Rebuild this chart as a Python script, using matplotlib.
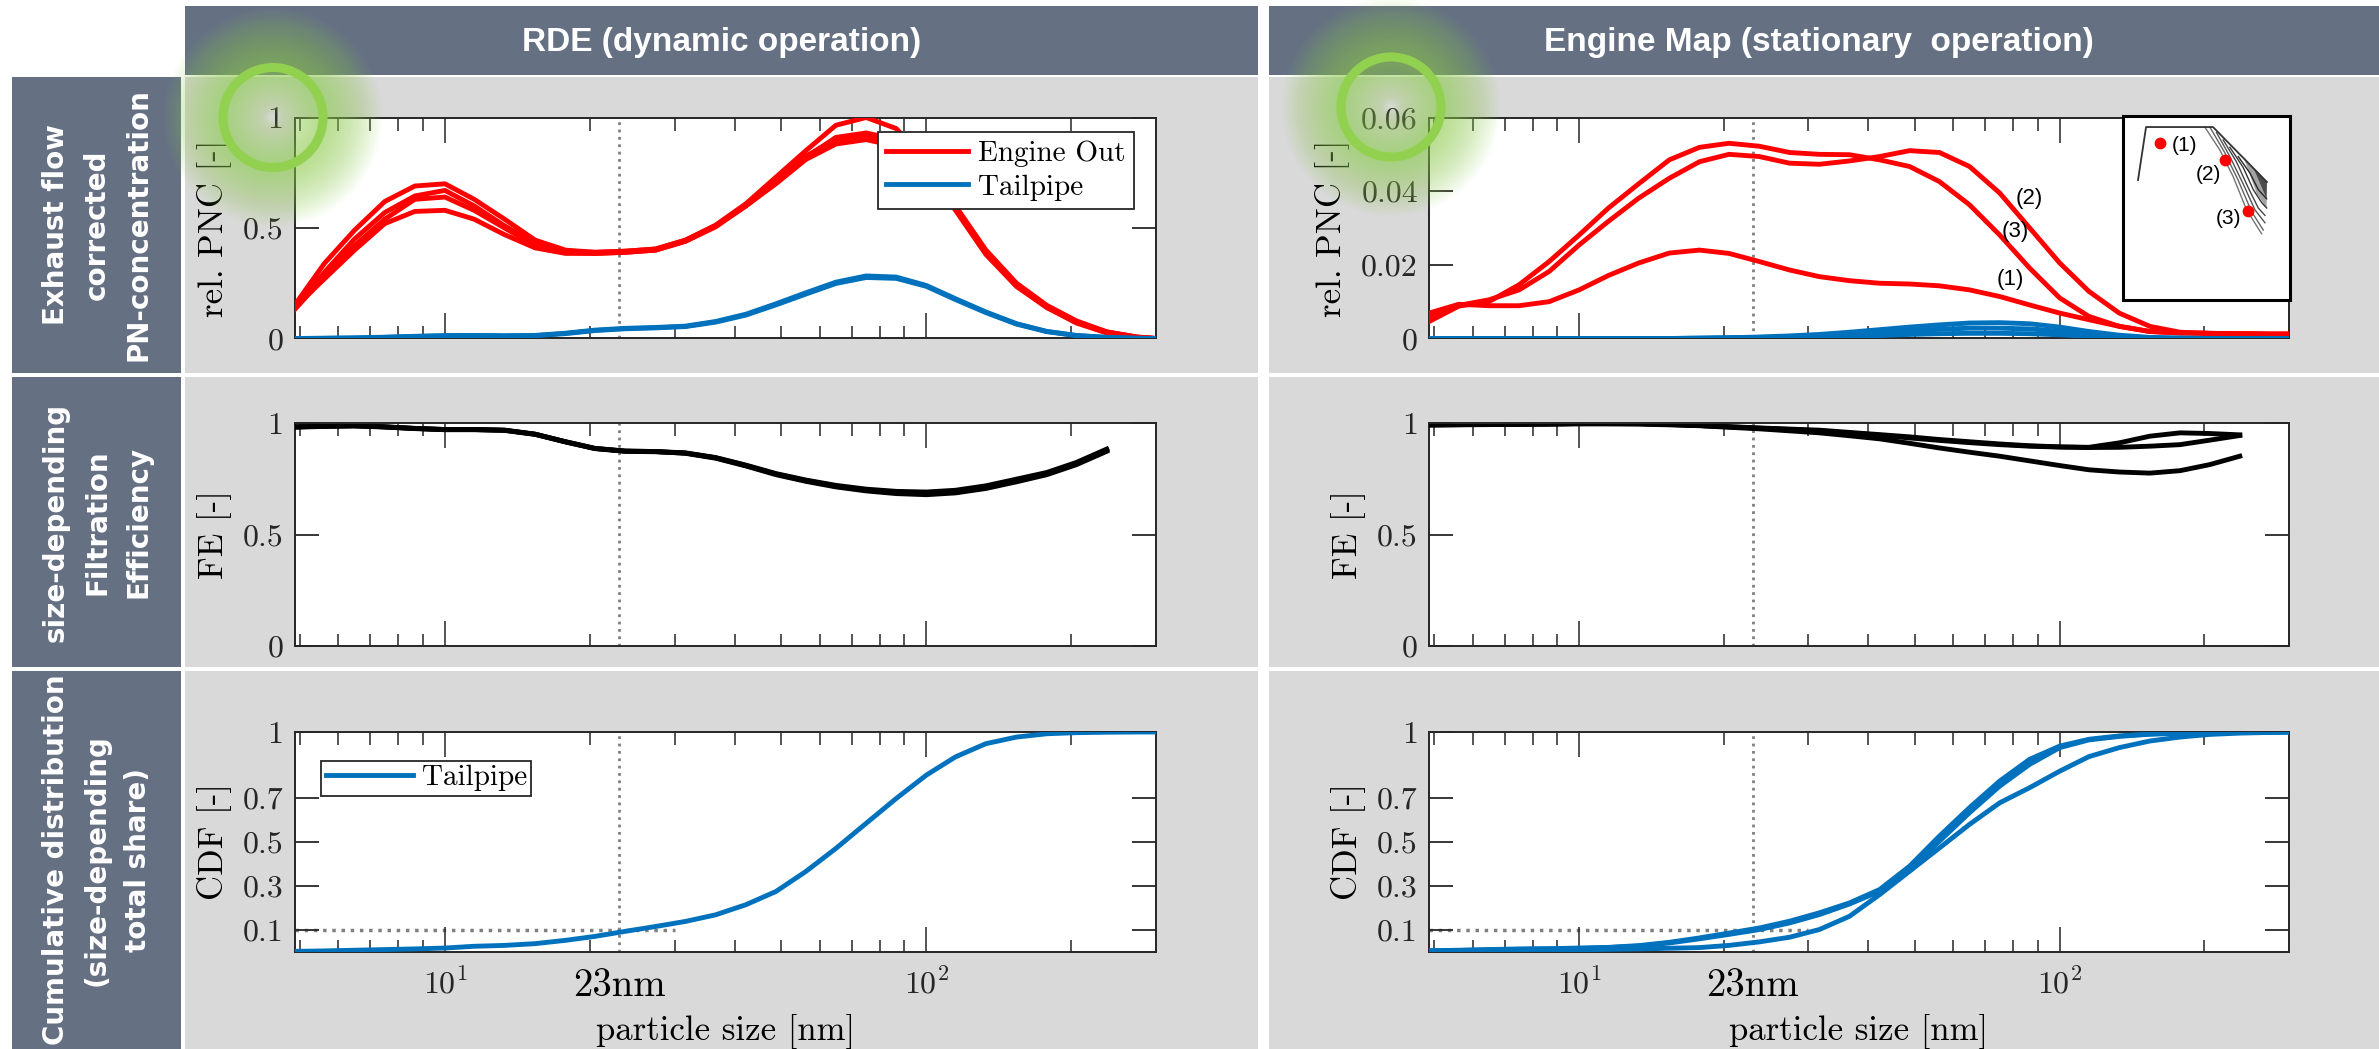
import numpy as np
import matplotlib
matplotlib.use("Agg")
import matplotlib.pyplot as plt
import matplotlib.transforms as mtransforms
from matplotlib import font_manager
from matplotlib.patches import Rectangle, Circle, Polygon
from matplotlib.ticker import FixedLocator, FixedFormatter, NullFormatter

W, H = 2379, 1049

# ---- data ----
size_nm = [4.87, 5.62, 6.49, 7.50, 8.66, 10.0, 11.5, 13.3, 15.4, 17.8, 20.5, 23.7,
           27.4, 31.6, 36.5, 42.2, 48.7, 56.2, 64.9, 75.0, 86.6, 100.0, 115.0,
           133.0, 154.0, 178.0, 205.0, 237.0, 274.0, 300.0]
x_max = 300.0
cut_size = 23
cdf_ref = 0.1
cdf_ref_end = 30

col_titles = ["RDE (dynamic operation)", "Engine Map (stationary  operation)"]
row_titles = ["Exhaust flow\ncorrected\nPN-concentration",
              "size-depending\nFiltration\nEfficiency",
              "Cumulative distribution\n(size-depending\ntotal share)"]

# RDE, relative PNC
rde_engine_out = [
    [0.15, 0.34, 0.49, 0.62, 0.69, 0.70, 0.63, 0.54, 0.445, 0.40, 0.39, 0.395, 0.405, 0.445, 0.513,
     0.61, 0.73, 0.85, 0.965, 1.0, 0.95, 0.80, 0.60, 0.40, 0.25, 0.15, 0.08, 0.03, 0.007, 0.0],
    [0.14, 0.30, 0.45, 0.57, 0.645, 0.67, 0.60, 0.51, 0.43, 0.395, 0.39, 0.395, 0.405, 0.445, 0.51,
     0.60, 0.71, 0.82, 0.91, 0.93, 0.90, 0.78, 0.59, 0.39, 0.24, 0.14, 0.075, 0.028, 0.006, 0.0],
    [0.13, 0.28, 0.42, 0.54, 0.63, 0.64, 0.58, 0.50, 0.42, 0.39, 0.385, 0.39, 0.40, 0.44, 0.505,
     0.60, 0.70, 0.81, 0.88, 0.90, 0.87, 0.76, 0.58, 0.38, 0.235, 0.14, 0.07, 0.025, 0.005, 0.0],
    [0.14, 0.27, 0.40, 0.52, 0.575, 0.58, 0.54, 0.47, 0.41, 0.385, 0.385, 0.39, 0.40, 0.44, 0.51,
     0.605, 0.715, 0.825, 0.90, 0.92, 0.89, 0.775, 0.585, 0.385, 0.24, 0.145, 0.075, 0.03, 0.006, 0.0],
]
rde_tailpipe = [
    [0.0, 0.001, 0.003, 0.006, 0.010, 0.013, 0.014, 0.012, 0.014, 0.024, 0.038, 0.046, 0.050, 0.056, 0.077,
     0.110, 0.157, 0.207, 0.255, 0.283, 0.278, 0.240, 0.180, 0.120, 0.067, 0.032, 0.014, 0.005, 0.001, 0.0],
    [0.0, 0.001, 0.002, 0.005, 0.009, 0.012, 0.013, 0.012, 0.013, 0.022, 0.036, 0.044, 0.048, 0.054, 0.074,
     0.106, 0.152, 0.201, 0.249, 0.276, 0.272, 0.236, 0.176, 0.117, 0.065, 0.031, 0.013, 0.005, 0.001, 0.0],
]

# Engine map, relative PNC, operating points (1), (2), (3)
map_engine_out = {
    "(1)": [0.0069, 0.0093, 0.0089, 0.0089, 0.0100, 0.0132, 0.0171, 0.0205, 0.0232, 0.0240, 0.0231, 0.0209,
            0.0186, 0.0168, 0.0157, 0.0150, 0.0148, 0.0143, 0.0132, 0.0114, 0.0091, 0.0069, 0.0051, 0.0033,
            0.0019, 0.0015, 0.0014, 0.0013, 0.0012, 0.0012],
    "(2)": [0.0055, 0.0090, 0.0105, 0.0132, 0.0182, 0.0254, 0.0318, 0.0381, 0.0435, 0.0480, 0.0500, 0.0494,
            0.0476, 0.0473, 0.0482, 0.0494, 0.0510, 0.0505, 0.0467, 0.0395, 0.0300, 0.0205, 0.0128, 0.0069,
            0.0033, 0.0017, 0.0014, 0.0013, 0.0012, 0.0012],
    "(3)": [0.0046, 0.0088, 0.0100, 0.0146, 0.0209, 0.0281, 0.0354, 0.0420, 0.0485, 0.0519, 0.0530, 0.0522,
            0.0505, 0.0500, 0.0499, 0.0485, 0.0467, 0.0426, 0.0363, 0.0281, 0.0191, 0.0110, 0.0060, 0.0033,
            0.0019, 0.0015, 0.0014, 0.0013, 0.0012, 0.0012],
}
map_tailpipe = [
    [0, 0, 0, 0, 0, 0, 0, 0, 0, 0.0001, 0.0002, 0.0004, 0.0007, 0.0011, 0.0017, 0.0024, 0.0031, 0.0037,
     0.0042, 0.0043, 0.0040, 0.0031, 0.0019, 0.0009, 0.0003, 0.0001, 0, 0, 0, 0],
    [0, 0, 0, 0, 0, 0, 0, 0, 0, 0.0001, 0.0002, 0.0003, 0.0005, 0.0008, 0.0012, 0.0017, 0.0021, 0.0025,
     0.0028, 0.0028, 0.0026, 0.0020, 0.0012, 0.0006, 0.0002, 0.0001, 0, 0, 0, 0],
    [0, 0, 0, 0, 0, 0, 0, 0, 0, 0, 0.0001, 0.0002, 0.0003, 0.0004, 0.0006, 0.0008, 0.0011, 0.0013,
     0.0014, 0.0014, 0.0013, 0.0010, 0.0006, 0.0003, 0.0001, 0, 0, 0, 0, 0],
]
# label positions of the operating points in the PNC plot (size, PNC)
map_label_pos = {"(1)": (79, 0.0159), "(2)": (86.5, 0.0381), "(3)": (81, 0.029)}

# filtration efficiency (first 28 sizes)
rde_fe = [
    [0.985, 0.988, 0.990, 0.985, 0.978, 0.973, 0.973, 0.970, 0.952, 0.918, 0.888, 0.876, 0.874, 0.868,
     0.847, 0.813, 0.775, 0.746, 0.722, 0.705, 0.695, 0.692, 0.700, 0.720, 0.750, 0.780, 0.825, 0.885],
    [0.985, 0.988, 0.990, 0.985, 0.978, 0.973, 0.973, 0.970, 0.952, 0.918, 0.888, 0.876, 0.874, 0.866,
     0.844, 0.809, 0.770, 0.740, 0.715, 0.697, 0.685, 0.680, 0.688, 0.708, 0.738, 0.770, 0.815, 0.875],
    [0.983, 0.987, 0.989, 0.984, 0.977, 0.972, 0.972, 0.969, 0.951, 0.917, 0.887, 0.875, 0.873, 0.867,
     0.846, 0.811, 0.773, 0.743, 0.718, 0.700, 0.690, 0.686, 0.694, 0.714, 0.744, 0.775, 0.820, 0.880],
]
map_fe = [
    [0.994, 0.995, 0.996, 0.997, 0.998, 1.0, 1.0, 1.0, 0.996, 0.991, 0.986, 0.980, 0.975, 0.970,
     0.960, 0.950, 0.940, 0.928, 0.918, 0.908, 0.900, 0.895, 0.893, 0.913, 0.943, 0.958, 0.955, 0.949],
    [0.994, 0.995, 0.996, 0.997, 0.998, 1.0, 1.0, 1.0, 0.996, 0.991, 0.985, 0.979, 0.973, 0.967,
     0.957, 0.947, 0.935, 0.924, 0.914, 0.905, 0.898, 0.894, 0.892, 0.893, 0.898, 0.905, 0.925, 0.946],
    [0.993, 0.994, 0.995, 0.996, 0.997, 0.998, 0.998, 0.997, 0.994, 0.990, 0.983, 0.976, 0.967, 0.958,
     0.945, 0.931, 0.911, 0.890, 0.871, 0.853, 0.832, 0.811, 0.792, 0.782, 0.777, 0.788, 0.815, 0.853],
]

# cumulative distribution of tailpipe PN
rde_cdf = [[0.003, 0.005, 0.008, 0.011, 0.014, 0.018, 0.026, 0.030, 0.038, 0.053, 0.071, 0.094, 0.116, 0.139,
            0.169, 0.215, 0.275, 0.366, 0.471, 0.585, 0.698, 0.804, 0.887, 0.947, 0.977, 0.992, 0.997, 0.999,
            1.0, 1.0]]
map_cdf = [
    [0.006, 0.008, 0.011, 0.014, 0.015, 0.018, 0.021, 0.029, 0.044, 0.064, 0.086, 0.109, 0.140, 0.178,
     0.223, 0.284, 0.390, 0.527, 0.656, 0.777, 0.876, 0.936, 0.967, 0.982, 0.991, 0.995, 0.997, 0.998, 0.999, 1.0],
    [0.005, 0.007, 0.010, 0.012, 0.014, 0.016, 0.020, 0.027, 0.041, 0.060, 0.080, 0.102, 0.132, 0.170,
     0.218, 0.276, 0.375, 0.504, 0.633, 0.754, 0.853, 0.929, 0.964, 0.980, 0.990, 0.994, 0.997, 0.998, 0.999, 1.0],
    [0.004, 0.005, 0.006, 0.007, 0.008, 0.010, 0.012, 0.014, 0.017, 0.020, 0.030, 0.046, 0.067, 0.102,
     0.162, 0.261, 0.367, 0.473, 0.580, 0.678, 0.747, 0.822, 0.888, 0.929, 0.959, 0.977, 0.989, 0.995, 0.998, 1.0],
]

# engine map sketch in the inset (normalised speed / load)
full_load_speed = [0.09, 0.138, 0.539, 0.862]
full_load_torque = [0.652, 0.94, 0.94, 0.641]
iso_lines = [
    ([0.49, 0.58, 0.66, 0.74, 0.83], [0.94, 0.815, 0.67, 0.49, 0.36]),
    ([0.52, 0.61, 0.69, 0.77, 0.84], [0.94, 0.80, 0.65, 0.48, 0.38]),
    ([0.56, 0.64, 0.72, 0.79, 0.85], [0.91, 0.78, 0.63, 0.49, 0.42]),
    ([0.60, 0.68, 0.75, 0.81, 0.85], [0.87, 0.75, 0.61, 0.50, 0.46]),
    ([0.64, 0.72, 0.78, 0.83, 0.86], [0.83, 0.72, 0.60, 0.53, 0.50]),
    ([0.69, 0.76, 0.81, 0.85, 0.86], [0.78, 0.69, 0.60, 0.56, 0.55]),
]
op_speed = [0.222, 0.611, 0.749]
op_torque = [0.853, 0.761, 0.484]
op_labels = ["(1)", "(2)", "(3)"]
op_label_pos = [(0.29, 0.842, "left"), (0.59, 0.68, "right"), (0.71, 0.445, "right")]

# ---- style ----
plt.rcParams['mathtext.fontset'] = 'cm'
names = {f.name for f in font_manager.fontManager.ttflist}
NARROW = 'Liberation Sans Narrow' if 'Liberation Sans Narrow' in names else 'Liberation Sans'
SERIF = 'cmr10'

HDR = '#657083'
PANEL = '#d9d9d9'
RED = '#ff0000'
BLUE = '#0072bd'
GREEN = '#92d050'
DARK = '#262626'
LW = 3.5


def frac(x0, y0, x1, y1):
    return [x0 / W, 1 - y1 / H, (x1 - x0) / W, (y1 - y0) / H]


fig = plt.figure(figsize=(W / 100, H / 100), dpi=100)

# background boxes
bg = fig.add_axes([0, 0, 1, 1], zorder=-5)
bg.set_xlim(0, W)
bg.set_ylim(H, 0)
bg.axis('off')
cols = [(185, 1258), (1269, W)]
rows = [(77, 373), (377, 667), (671, H)]
for (x0, x1), title in zip(cols, col_titles):
    bg.add_patch(Rectangle((x0, 6), x1 - x0, 69, color=HDR, lw=0))
    for y0, y1 in rows:
        bg.add_patch(Rectangle((x0, y0), x1 - x0, y1 - y0, color=PANEL, lw=0))
for cx, title in zip([722, 1819], col_titles):
    bg.text(cx, 43, title, ha='center', va='center', color='white',
            fontsize=24, fontweight='bold', family=NARROW)
for (y0, y1), lab in zip(rows, row_titles):
    bg.add_patch(Rectangle((12, y0), 169, y1 - y0, color=HDR, lw=0))
    bg.text(97, (y0 + y1) / 2, lab, rotation=90, ha='center', va='center', color='white',
            fontsize=20, fontweight='bold', linespacing=1.6, multialignment='center',
            family='DejaVu Sans')

ax_x = [(294.5, 1156), (1429, 2289)]
ax_y = [(117.5, 338.5), (423.5, 646), (732, 952)]


def style(ax, yticks, ylabels, ylim, ylab, bottom=False):
    ax.set_xscale('log')
    ax.set_xlim(size_nm[0], x_max)
    ax.set_ylim(*ylim)
    ax.xaxis.set_major_locator(FixedLocator([10, 100]))
    ax.xaxis.set_minor_locator(FixedLocator([5, 6, 7, 8, 9, 20, 30, 40, 50, 60, 70, 80, 90, 200]))
    ax.xaxis.set_minor_formatter(NullFormatter())
    if bottom:
        ax.xaxis.set_major_formatter(FixedFormatter([r'$10^{1}$', r'$10^{2}$']))
        ax.tick_params(axis='x', which='major', labelsize=23, pad=12)
        ax.set_xlabel('particle size [nm]', family=SERIF, fontsize=25, labelpad=10)
        tr = mtransforms.blended_transform_factory(ax.transData, ax.transAxes)
        ax.text(cut_size, -0.075, '23nm', transform=tr, ha='center', va='top',
                family=SERIF, fontsize=28)
    else:
        ax.xaxis.set_major_formatter(NullFormatter())
    ax.yaxis.set_major_locator(FixedLocator(yticks))
    ax.yaxis.set_major_formatter(FixedFormatter(ylabels))
    for t in ax.get_yticklabels():
        t.set_family(SERIF)
    ax.tick_params(which='both', direction='in', top=True, right=True, color=DARK, labelcolor=DARK)
    ax.tick_params(axis='x', which='major', length=18, width=1.1)
    ax.tick_params(axis='x', which='minor', length=9, width=1.1)
    ax.tick_params(axis='y', which='major', length=17, width=1.3, pad=8, labelsize=23)
    for s in ax.spines.values():
        s.set_color(DARK)
        s.set_linewidth(1.4)
    ax.set_ylabel(ylab, family=SERIF, fontsize=25, labelpad=8)
    ax.axvline(cut_size, color='#808080', ls=':', lw=2, zorder=1)


axes = [[fig.add_axes(frac(x0, y0, x1, y1)) for (x0, x1) in ax_x] for (y0, y1) in ax_y]

# row 1: PNC
ax = axes[0][0]
style(ax, [0, 0.5, 1], ['0', '0.5', '1'], (0, 1), 'rel. PNC [-]')
for i, y in enumerate(rde_engine_out):
    ax.plot(size_nm, y, color=RED, lw=LW, label='Engine Out' if i == 0 else '_nolegend_', zorder=3)
for i, y in enumerate(rde_tailpipe):
    ax.plot(size_nm, y, color=BLUE, lw=LW, label='Tailpipe' if i == 0 else '_nolegend_', zorder=3)
leg = ax.legend(loc='upper right', bbox_to_anchor=(0.975, 0.936), prop={'family': SERIF, 'size': 21},
                fancybox=False, edgecolor=DARK, framealpha=1, handlelength=2.8, borderaxespad=0,
                labelspacing=0.25, handletextpad=0.35, borderpad=0.3)
leg.get_frame().set_linewidth(1.3)

ax = axes[0][1]
style(ax, [0, 0.02, 0.04, 0.06], ['0', '0.02', '0.04', '0.06'], (0, 0.06), 'rel. PNC [-]')
for key, y in map_engine_out.items():
    ax.plot(size_nm, y, color=RED, lw=LW, zorder=3)
    lx, ly = map_label_pos[key]
    ax.text(lx, ly, key, ha='center', va='center', family=NARROW, fontsize=16, zorder=4)
for y in map_tailpipe:
    ax.plot(size_nm, y, color=BLUE, lw=LW, zorder=3)

# row 2: filtration efficiency
ax = axes[1][0]
style(ax, [0, 0.5, 1], ['0', '0.5', '1'], (0, 1), 'FE [-]')
for y in rde_fe:
    ax.plot(size_nm[:len(y)], y, color='black', lw=LW, zorder=3)
ax = axes[1][1]
style(ax, [0, 0.5, 1], ['0', '0.5', '1'], (0, 1), 'FE [-]')
for y in map_fe:
    ax.plot(size_nm[:len(y)], y, color='black', lw=LW, zorder=3)

# row 3: CDF
for ax, curves in zip(axes[2], [rde_cdf, map_cdf]):
    style(ax, [0.1, 0.3, 0.5, 0.7, 1], ['0.1', '0.3', '0.5', '0.7', '1'], (0, 1), 'CDF [-]', bottom=True)
    ax.hlines(cdf_ref, size_nm[0], cdf_ref_end, color='#808080', ls=':', lw=2.5, zorder=1)
    for i, y in enumerate(curves):
        ax.plot(size_nm, y, color=BLUE, lw=LW, label='Tailpipe' if i == 0 else '_nolegend_', zorder=3)
leg = axes[2][0].legend(loc='upper left', bbox_to_anchor=(0.031, 0.87), prop={'family': SERIF, 'size': 21},
                        fancybox=False, edgecolor=DARK, framealpha=1, handlelength=3.0, borderaxespad=0,
                        handletextpad=0.3, borderpad=0.15)
leg.get_frame().set_linewidth(1.3)

# inset: engine map with operating points
ins = fig.add_axes(frac(2123, 116, 2290, 300), zorder=5)
ins.set_xlim(0, 1)
ins.set_ylim(0, 1)
ins.set_xticks([])
ins.set_yticks([])
for s in ins.spines.values():
    s.set_linewidth(2.2)
    s.set_color('black')
ins.add_patch(Polygon([(0.72, 0.78), (0.862, 0.641), (0.86, 0.50), (0.80, 0.58)],
                      closed=True, color='#333333', alpha=0.45, lw=0))
ins.add_patch(Polygon([(0.78, 0.72), (0.862, 0.641), (0.86, 0.55)],
                      closed=True, color='#111111', alpha=0.6, lw=0))
for i, (xs, ys) in enumerate(iso_lines):
    ins.plot(xs, ys, color=(0.45 - 0.06 * i, ) * 3, lw=1.0)
ins.plot(full_load_speed, full_load_torque, color='#333333', lw=1.3)
ins.plot(op_speed, op_torque, 'o', color=RED, ms=8.5, mec='none')
for lab, (lx, ly, ha) in zip(op_labels, op_label_pos):
    ins.text(lx, ly, lab, ha=ha, va='center', family=NARROW, fontsize=15)

# green highlight rings with soft glow
ov = fig.add_axes([0, 0, 1, 1], zorder=20)
ov.set_xlim(0, W)
ov.set_ylim(H, 0)
ov.axis('off')
ov.patch.set_alpha(0)
for cx, cy in [(273, 117.5), (1391, 107)]:
    for lw in np.linspace(85, 8, 22):
        ov.add_patch(Circle((cx, cy), 50, fill=False, ec=GREEN, lw=lw, alpha=0.04))
    ov.add_patch(Circle((cx, cy), 50, fill=False, ec=GREEN, lw=6.5))

fig.savefig('out.png', dpi=100)
